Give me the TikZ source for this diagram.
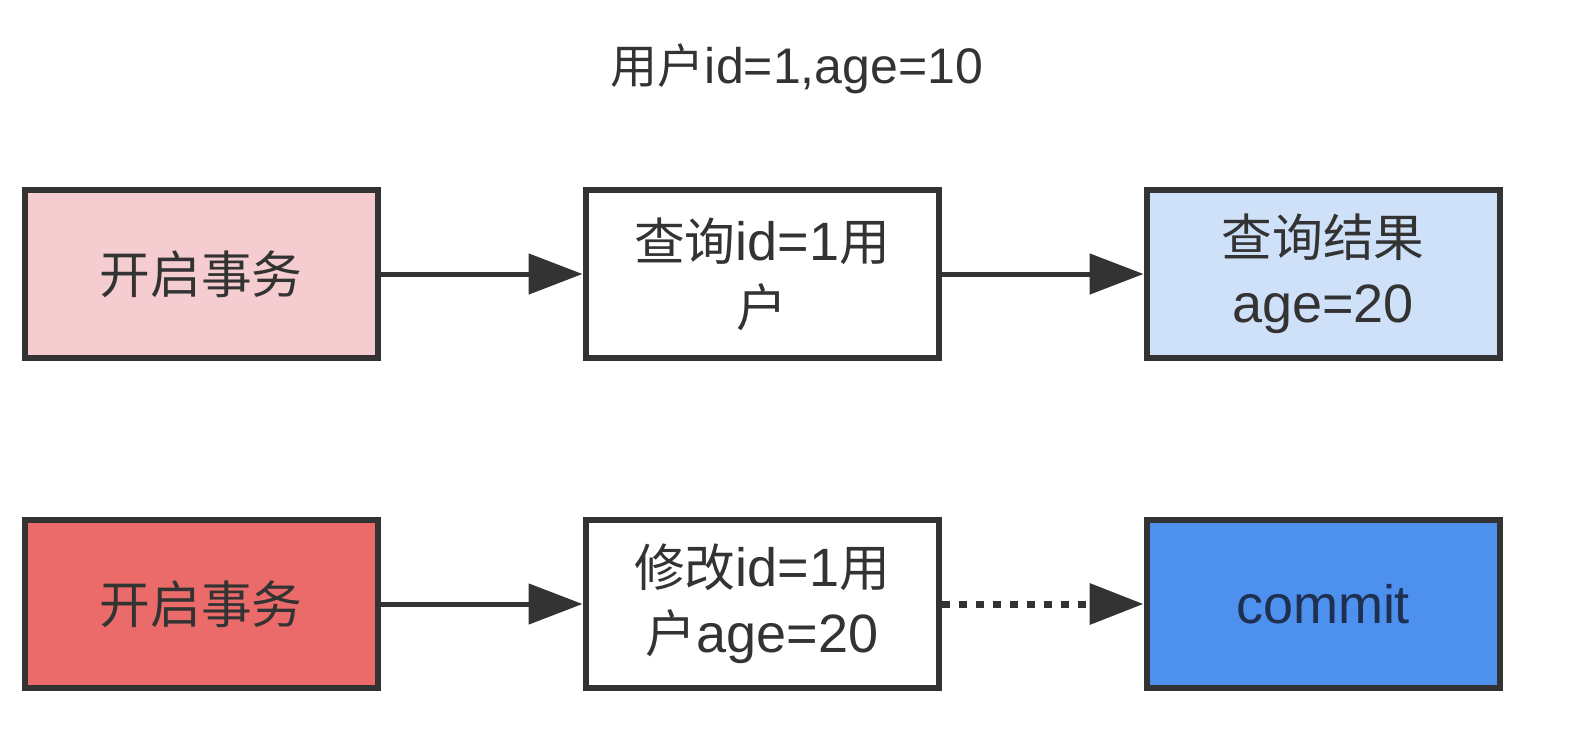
\documentclass[tikz,border=0pt]{standalone}
\usepackage{fontspec}
\setmainfont{Liberation Sans}
\newfontfamily\cjk[Scale=0.94]{Noto Sans CJK SC}
\usepackage{tikz}
\usetikzlibrary{arrows.meta,positioning}

\definecolor{edge}{HTML}{333333}
\definecolor{pinkfill}{HTML}{F5CDD0}
\definecolor{redfill}{HTML}{EA6B69}
\definecolor{lbluefill}{HTML}{CFE1F8}
\definecolor{bluefill}{HTML}{4D90EE}
\definecolor{navytext}{HTML}{1E2F4F}

\begin{document}
\begin{tikzpicture}[
  x=1pt, y=-1pt,
  box/.style={rectangle, draw=edge, line width=6pt, minimum width=353pt,
    minimum height=168pt, align=center, font=\fontsize{54}{66}\selectfont,
    text=edge, inner sep=0pt},
  arr/.style={-{Triangle[length=54pt,width=40pt]}, line width=5pt, draw=edge},
  node distance=202pt
]
\useasboundingbox (0,0) rectangle (1582,750);

\node[font=\fontsize{50}{56}\selectfont, text=edge] (title) at (797,69) {{\cjk 用户}id=1,age=10};

% transaction A
\node[box, fill=pinkfill] (beginA) at (201,274) {\cjk 开启事务};
\node[box, fill=white, right=of beginA] (query) {{\cjk 查询}id=1{\cjk 用}\\{\cjk 户}};
\node[box, fill=lbluefill, right=of query] (result) {{\cjk 查询结果}\\age=20};

% transaction B
\node[box, fill=redfill] (beginB) at (201,604) {\cjk 开启事务};
\node[box, fill=white, right=of beginB] (update) {{\cjk 修改}id=1{\cjk 用}\\{\cjk 户}age=20};
\node[box, fill=bluefill, text=navytext, right=of update] (commit) {commit};

\draw[arr] (beginA) -- (query);
\draw[arr] (query) -- (result);
\draw[arr] (beginB) -- (update);
\draw[arr, line width=7pt, dash pattern=on 8pt off 9pt] (update) -- (commit);

\end{tikzpicture}
\end{document}
